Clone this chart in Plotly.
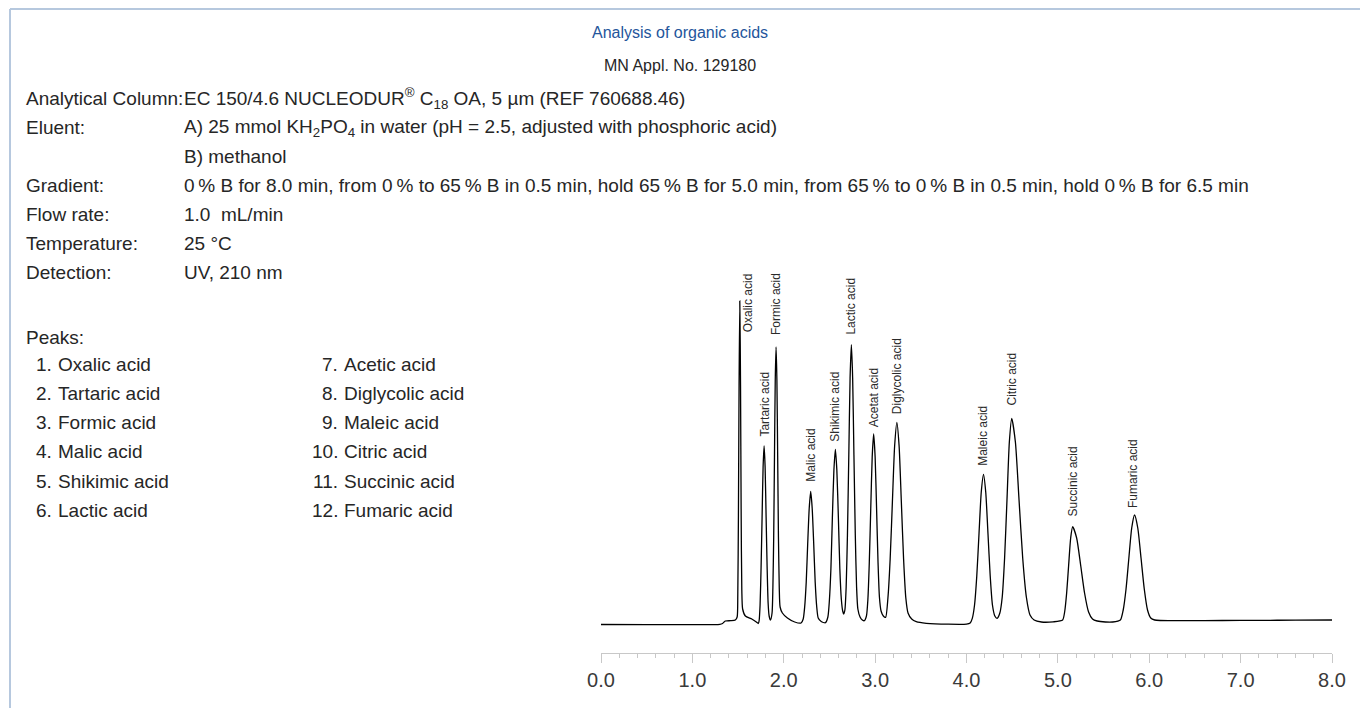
import plotly.graph_objects as go

# ---------------- data ----------------
time_min = [
    0.00, 0.50, 1.00, 1.30, 1.33, 1.36, 1.42, 1.47,
    1.490, 1.497, 1.504, 1.511, 1.519, 1.527, 1.534, 1.541, 1.550, 1.580, 1.650, 1.700,
    1.722, 1.730, 1.741, 1.752, 1.763, 1.774, 1.785, 1.796, 1.807, 1.818, 1.829, 1.840, 1.855,
    1.872, 1.881, 1.890, 1.8985, 1.907, 1.916, 1.925, 1.9335, 1.942, 1.951, 1.960, 1.985, 2.040, 2.120, 2.190,
    2.213, 2.229, 2.246, 2.262, 2.279, 2.295, 2.311, 2.328, 2.344, 2.361, 2.377, 2.410, 2.456,
    2.483, 2.499, 2.516, 2.532, 2.549, 2.565, 2.581, 2.598, 2.614, 2.630, 2.645, 2.656,
    2.669, 2.683, 2.697, 2.712, 2.726, 2.740, 2.754, 2.768, 2.783, 2.797, 2.811, 2.835, 2.860, 2.882,
    2.905, 2.921, 2.936, 2.952, 2.968, 2.984, 3.000, 3.016, 3.032, 3.047, 3.065, 3.090, 3.115,
    3.140, 3.1645, 3.189, 3.2135, 3.238, 3.2625, 3.287, 3.3115, 3.336, 3.360, 3.400, 3.450, 3.560,
    3.800, 4.000, 4.040, 4.0635, 4.088, 4.1125, 4.137, 4.1615, 4.186, 4.2105, 4.235, 4.2595, 4.284, 4.310, 4.335,
    4.365, 4.391, 4.417, 4.443, 4.469, 4.495, 4.535, 4.575, 4.615, 4.655, 4.695, 4.740, 4.820,
    4.950, 5.052, 5.074, 5.096, 5.118, 5.140, 5.162, 5.2055, 5.249, 5.292, 5.336, 5.379, 5.430, 5.520,
    5.600, 5.684, 5.715, 5.746, 5.777, 5.808, 5.839, 5.8745, 5.910, 5.9455, 5.981, 6.0165, 6.060, 6.120,
    6.400, 6.800, 7.200, 7.600, 8.000,
]
signal = [
    0.5, 0.4, 0.3, 0.6, 1.5, 4.0, 4.3, 5.0,
    8, 30, 110, 240, 324, 240, 110, 35, 16, 9, 6, 3.0,
    1.5, 4, 20, 58, 108, 158, 179, 158, 108, 58, 22, 9, 5,
    12, 37, 88, 169, 245, 278, 245, 169, 88, 37, 18, 12, 7, 3, 2,
    6, 18, 43, 81, 117, 133.5, 117, 81, 43, 18, 7, 3.5, 2.3,
    8, 24, 56, 107, 155, 175.7, 155, 107, 56, 26, 14, 11,
    15, 38, 90, 170, 247, 280.3, 247, 170, 90, 38, 16, 8, 5, 4.3,
    9, 26, 62, 116, 168, 191, 168, 116, 62, 28, 14, 9, 7.7,
    27, 66, 123, 179, 202.7, 179, 123, 66, 27, 12, 6, 3.3, 1.7,
    0.8, 0.9, 2, 6.6, 20, 49, 91.5, 133, 150.7, 133, 91.5, 49, 20, 9, 6.7,
    12, 28, 67, 125, 183, 206.7, 183, 125, 67, 28, 10, 5, 3,
    3.2, 5, 13, 32, 60, 87, 98.3, 87, 60, 32, 13, 6, 4, 3,
    3, 5, 15, 36, 67, 97, 110, 97, 67, 36, 15, 7, 5, 4.5,
    4.3, 4.5, 4.6, 4.9, 5.0,
]

peak_labels = ["Oxalic acid", "Tartaric acid", "Formic acid", "Malic acid",
               "Shikimic acid", "Lactic acid", "Acetat acid", "Diglycolic acid",
               "Maleic acid", "Citric acid", "Succinic acid", "Fumaric acid"]
peak_times = [1.519, 1.785, 1.916, 2.295, 2.565, 2.740, 2.984, 3.238,
              4.186, 4.495, 5.162, 5.839]

peak_list = ["Oxalic acid", "Tartaric acid", "Formic acid", "Malic acid",
             "Shikimic acid", "Lactic acid", "Acetic acid", "Diglycolic acid",
             "Maleic acid", "Citric acid", "Succinic acid", "Fumaric acid"]

info_keys = ["Analytical Column:", "Eluent:", "", "Gradient:", "Flow rate:",
             "Temperature:", "Detection:"]
info_values = [
    "EC 150/4.6 NUCLEODUR<sup>®</sup> C<sub>18</sub> OA, 5 µm (REF 760688.46)",
    "A) 25 mmol KH<sub>2</sub>PO<sub>4</sub> in water (pH = 2.5, adjusted with phosphoric acid)",
    "B) methanol",
    "0\u2009% B for 8.0 min, from 0\u2009% to 65\u2009% B in 0.5 min, hold 65\u2009% B for 5.0 min, "
    "from 65\u2009% to 0\u2009% B in 0.5 min, hold 0\u2009% B for 6.5 min",
    "1.0 \u00a0mL/min",
    "25 °C",
    "UV, 210 nm",
]

x_tick_values = [0, 1, 2, 3, 4, 5, 6, 7, 8]
x_tick_labels = ["0.0", "1.0", "2.0", "3.0", "4.0", "5.0", "6.0", "7.0", "8.0"]

# ---------------- layout geometry (pixels) ----------------
W, H = 1360, 708
PL, PR, PT, PB = 601, 28, 270, 55
plot_w = W - PL - PR
plot_h = H - PT - PB


def px_x(px):
    return (px - PL) / plot_w


def px_y(py):
    return (H - PB - py) / plot_h


FONT = "Liberation Sans, Arial, Helvetica, sans-serif"
TXT = "#262626"
BLUE = "#24559b"
TEXT_SIZE = 19
TITLE_SIZE = 16

fig = go.Figure()
fig.add_trace(go.Scatter(
    x=time_min, y=signal, mode="lines",
    line=dict(color="#000000", width=1.3, shape="spline", smoothing=0.6),
    hoverinfo="skip", showlegend=False,
))

annotations = []

# peak labels (rotated)
label_dx = [8, 0, 0, 0, 0, 0, 0, 0, 0, 0, 0, -2]
label_dy = [-33, 7, 10, 8, 6, 8, 5, 6, 6, 11, 8, 5]
for name, t, dx, dy in zip(peak_labels, peak_times, label_dx, label_dy):
    top = signal[time_min.index(t)]
    annotations.append(dict(
        x=t, y=top, xref="x", yref="y", text=name, showarrow=False,
        textangle=-90, xanchor="center", yanchor="bottom",
        xshift=dx, yshift=dy,
        font=dict(family=FONT, size=12, color="#2a2a2a"),
    ))

# titles
annotations.append(dict(x=px_x(680), y=px_y(33), xref="paper", yref="paper",
                        text="Analysis of organic acids", showarrow=False,
                        xanchor="center", yanchor="middle",
                        font=dict(family=FONT, size=TITLE_SIZE, color=BLUE)))
annotations.append(dict(x=px_x(680), y=px_y(65), xref="paper", yref="paper",
                        text="MN Appl. No. 129180", showarrow=False,
                        xanchor="center", yanchor="middle",
                        font=dict(family=FONT, size=TITLE_SIZE, color=TXT)))

# method info block
for k, (key, val) in enumerate(zip(info_keys, info_values)):
    yc = 98.5 + 29 * k
    if key:
        annotations.append(dict(x=px_x(24), y=px_y(yc), xref="paper", yref="paper",
                                text=key, showarrow=False, xanchor="left", yanchor="middle",
                                font=dict(family=FONT, size=TEXT_SIZE, color=TXT)))
    annotations.append(dict(x=px_x(182), y=px_y(yc), xref="paper", yref="paper",
                            text=val, showarrow=False, xanchor="left", yanchor="middle",
                            font=dict(family=FONT, size=TEXT_SIZE, color=TXT)))

# peak list
annotations.append(dict(x=px_x(24), y=px_y(337), xref="paper", yref="paper",
                        text="Peaks:", showarrow=False, xanchor="left", yanchor="middle",
                        font=dict(family=FONT, size=TEXT_SIZE, color=TXT)))
for i, name in enumerate(peak_list):
    col, row = divmod(i, 6)
    yc = 364 + 29.3 * row
    num_right = 54 if col == 0 else 340
    name_left = 56 if col == 0 else 342
    annotations.append(dict(x=px_x(num_right), y=px_y(yc), xref="paper", yref="paper",
                            text=f"{i + 1}.", showarrow=False, xanchor="right", yanchor="middle",
                            font=dict(family=FONT, size=TEXT_SIZE, color=TXT)))
    annotations.append(dict(x=px_x(name_left), y=px_y(yc), xref="paper", yref="paper",
                            text=name, showarrow=False, xanchor="left", yanchor="middle",
                            font=dict(family=FONT, size=TEXT_SIZE, color=TXT)))

# frame lines (left and top)
BORDER = "#b6c8de"
shapes = [
    dict(type="line", xref="paper", yref="paper",
         x0=px_x(10), x1=px_x(10), y0=px_y(9), y1=px_y(H + 5),
         line=dict(color=BORDER, width=2)),
    dict(type="line", xref="paper", yref="paper",
         x0=px_x(10), x1=px_x(W + 5), y0=px_y(9), y1=px_y(9),
         line=dict(color=BORDER, width=2)),
]

fig.update_layout(
    width=W, height=H,
    margin=dict(l=PL, r=PR, t=PT, b=PB, pad=0),
    paper_bgcolor="white", plot_bgcolor="white",
    annotations=annotations, shapes=shapes,
    showlegend=False,
    xaxis=dict(
        range=[0, 8], tickmode="array", tickvals=x_tick_values, ticktext=x_tick_labels,
        showgrid=False, zeroline=False, showline=True, linecolor="#c8c8c8", linewidth=1.3,
        ticks="outside", ticklen=9, tickwidth=1.3, tickcolor="#c8c8c8",
        minor=dict(dtick=0.2, ticks="outside", ticklen=4, tickwidth=1.2, tickcolor="#c8c8c8",
                   showgrid=False),
        tickfont=dict(family=FONT, size=20, color="#3a3a3a"),
        ticklabelstandoff=0,
        fixedrange=True,
    ),
    yaxis=dict(range=[-28, plot_h - 28], visible=False, fixedrange=True),
)

fig.write_html("out.html", config={"displayModeBar": False},
               post_script="document.body.style.margin='0';document.body.style.overflow='hidden';")
